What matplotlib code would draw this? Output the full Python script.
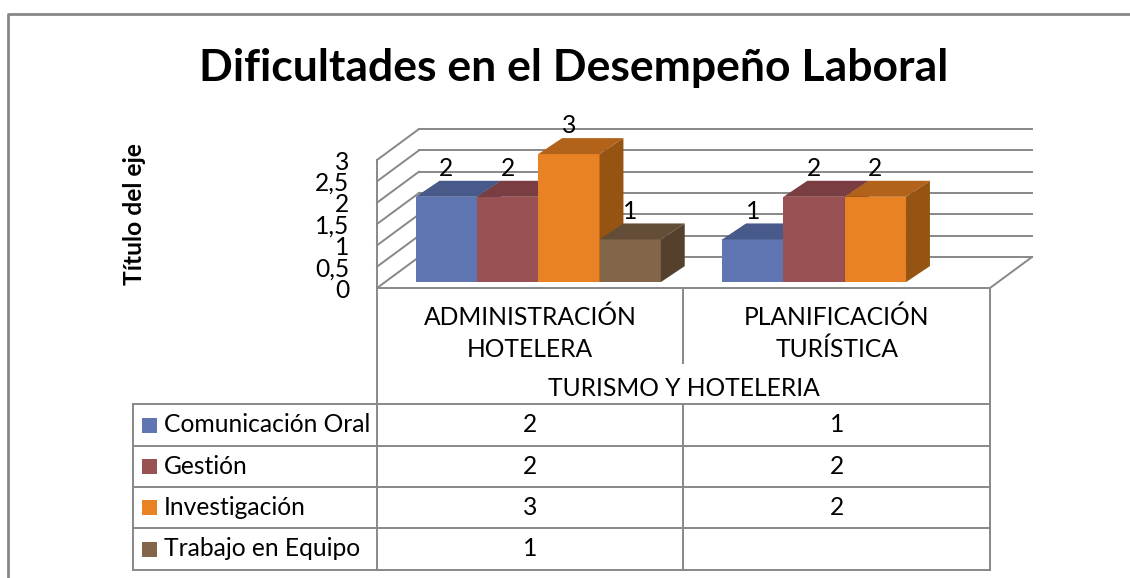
import numpy as np
import matplotlib
matplotlib.use("Agg")
import matplotlib.pyplot as plt
from matplotlib.patches import Polygon, Rectangle
from matplotlib.transforms import blended_transform_factory

# Données du graphique
titre = "Dificultades en el Desempeño Laboral"
titre_axe = "Título del eje"
categorias = ["ADMINISTRACIÓN\nHOTELERA", "PLANIFICACIÓN\nTURÍSTICA"]
groupe = "TURISMO Y HOTELERIA"
series = ["Comunicación Oral", "Gestión", "Investigación", "Trabajo en Equipo"]
comunicacion_oral = [2, 1]
gestion = [2, 2]
investigacion = [3, 2]
trabajo_equipo = [1, None]
valeurs = [comunicacion_oral, gestion, investigacion, trabajo_equipo]
ticks_y = [0, 0.5, 1, 1.5, 2, 2.5, 3]

# couleurs : face avant, dessus, côté
couleurs = [("#6076B2", "#485A89", "#3E4E78"),
            ("#995153", "#7A3D41", "#6A3235"),
            ("#E88225", "#B3621A", "#955411"),
            ("#836649", "#634D37", "#553F2D")]
gris = "#888888"
fs = 17.7

W, H = 1130, 578
plt.rcParams['font.family'] = ['Lato', 'DejaVu Sans']
fig = plt.figure(figsize=(W / 100, H / 100), dpi=100)

# calque en pixels pour le cadre et le tableau
ov = fig.add_axes([0, 0, 1, 1])
ov.set_xlim(0, W)
ov.set_ylim(H, 0)
ov.axis('off')

# zone du graphique (plan avant)
ax = fig.add_axes([377 / W, (H - 288) / H, 613 / W, 128 / H])
ax.set_xlim(0, 2)
ax.set_ylim(0, 3)
ax.patch.set_alpha(0)
for s in ax.spines.values():
    s.set_visible(False)
ax.set_xticks([])
ax.set_yticks(ticks_y)
ax.set_yticklabels([f"{v:g}".replace('.', ',') for v in ticks_y], fontsize=fs)
ax.tick_params(axis='y', length=0, pad=20)

# profondeur du sol / des murs
dX, dY = 0.137, 0.726
lw = 1.4
# mur du fond et mur gauche
for v in ticks_y:
    ax.plot([dX, 2 + dX], [v + dY, v + dY], color=gris, lw=lw, clip_on=False, zorder=1)
    ax.plot([0, dX], [v, v + dY], color=gris, lw=lw, clip_on=False, zorder=1)
ax.plot([0, 0], [0, 3], color=gris, lw=lw, clip_on=False, zorder=1)
ax.plot([0, 2], [0, 0], color=gris, lw=lw, clip_on=False, zorder=1)
ax.plot([2, 2 + dX], [0, dY], color=gris, lw=lw, clip_on=False, zorder=1)

# barres 3D
largeur = 0.2
fx, fy = 0.19 * dX, 0.19 * dY   # décalage de la face avant
px, py = 0.078, 0.375           # profondeur des barres
z = 2
for i in range(len(categorias)):
    for j, serie in enumerate(valeurs):
        v = serie[i]
        if v is None:
            continue
        x0 = i + 0.5 - 2 * largeur + j * largeur + fx
        y0 = fy
        avant, dessus, cote = couleurs[j]
        ax.bar(x0, v, width=largeur, bottom=y0, align='edge', color=avant,
               linewidth=0, zorder=z, clip_on=False)
        ax.add_patch(Polygon([(x0, y0 + v), (x0 + largeur, y0 + v),
                              (x0 + largeur + px, y0 + v + py), (x0 + px, y0 + v + py)],
                             closed=True, facecolor=dessus, lw=0, zorder=z, clip_on=False))
        ax.add_patch(Polygon([(x0 + largeur, y0), (x0 + largeur + px, y0 + py),
                              (x0 + largeur + px, y0 + v + py), (x0 + largeur, y0 + v)],
                             closed=True, facecolor=cote, lw=0, zorder=z, clip_on=False))
        ax.text(x0 + largeur / 2, y0 + v + py + 0.02, f"{v:g}", ha='center', va='bottom',
                fontsize=fs, zorder=10, clip_on=False)
        z += 1

# cadre extérieur
ov.plot([7.5, 7.5, W + 5], [H + 5, 14, 14], color=gris, lw=2)

# titres
ov.text(574, 68, titre, ha='center', va='center', fontsize=32, fontweight='bold')
ov.text(134, 214, titre_axe, ha='center', va='center', rotation=90, fontsize=fs,
        fontweight='bold')

# tableau de données
X0, X1, X2 = 377, 683, 990
XL = 133
rangs = [404, 446, 487, 528, 570]
ov.plot([X0, X0], [288, rangs[-1]], color=gris, lw=lw)
ov.plot([X2, X2], [288, rangs[-1]], color=gris, lw=lw)
ov.plot([X1, X1], [288, 363], color=gris, lw=lw)
ov.plot([X1, X1], [rangs[0], rangs[-1]], color=gris, lw=lw)
ov.plot([XL, XL], [rangs[0], rangs[-1]], color=gris, lw=lw)
for yr in rangs:
    ov.plot([XL, X2], [yr, yr], color=gris, lw=lw)

tr = blended_transform_factory(ax.transData, ov.transData)
for i, cat in enumerate(categorias):
    ax.text(i + 0.5, 333, cat, transform=tr, ha='center', va='center', fontsize=fs,
            linespacing=1.45, clip_on=False)
ax.text(1, 389, groupe, transform=tr, ha='center', va='center', fontsize=fs, clip_on=False)

for j, nom in enumerate(series):
    yc = (rangs[j] + rangs[j + 1]) / 2
    ov.add_patch(Rectangle((142, yc - 7.5), 15, 15, facecolor=couleurs[j][0], lw=0))
    ov.text(164, yc, nom, ha='left', va='center', fontsize=fs)
    for i in range(len(categorias)):
        v = valeurs[j][i]
        if v is None:
            continue
        ax.text(i + 0.5, yc, f"{v:g}", transform=tr, ha='center', va='center',
                fontsize=fs, clip_on=False)

fig.savefig("out.png", dpi=100)
